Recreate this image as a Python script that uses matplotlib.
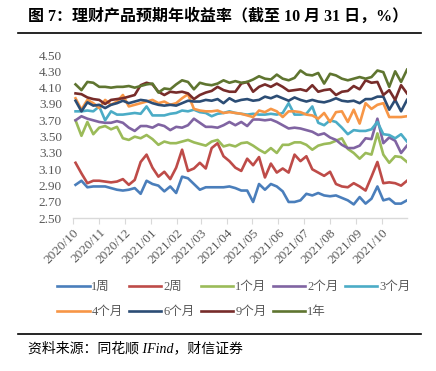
import pandas as pd
import matplotlib
matplotlib.use("Agg")
import matplotlib.pyplot as plt
import matplotlib.dates as mdates
from matplotlib.lines import Line2D

# Tygodniowe daty obserwacji (57 tygodni, do 31.10.2021)
dates = pd.date_range("2020-10-04", periods=57, freq="7D")

labels = ["1周", "2周", "1个月", "2个月", "3个月", "4个月", "6个月", "9个月", "1年"]
colors = ["#4a7ebb", "#be4b48", "#9bbb59", "#8064a2", "#4bacc6",
          "#f79646", "#2c4d75", "#772c2a", "#5f7530"]

w1 = [2.91, 2.96, 2.88, 2.89, 2.89, 2.89, 2.87, 2.85, 2.84, 2.85,
      2.87, 2.80, 2.96, 2.92, 2.90, 2.83, 2.89, 2.81, 3.01, 2.99,
      2.92, 2.85, 2.88, 2.88, 2.88, 2.88, 2.89, 2.87, 2.84, 2.84,
      2.70, 2.92, 2.85, 2.92, 2.89, 2.83, 2.70, 2.70, 2.72, 2.80,
      2.78, 2.81, 2.78, 2.77, 2.78, 2.75, 2.72, 2.67, 2.76, 2.68,
      2.74, 2.89, 2.72, 2.74, 2.68, 2.68, 2.72]
w2 = [3.18, 3.05, 2.93, 2.96, 2.96, 2.95, 2.94, 2.95, 2.98, 2.91,
      2.97, 3.19, 3.28, 3.12, 3.01, 3.07, 2.98, 3.12, 3.34, 3.08,
      3.11, 3.18, 3.11, 3.36, 3.42, 3.26, 3.20, 3.12, 3.08, 3.23,
      3.15, 3.25, 3.00, 3.17, 3.06, 3.11, 3.06, 3.28, 3.20, 3.26,
      3.10, 3.06, 3.02, 3.07, 2.92, 2.89, 2.88, 2.93, 2.89, 2.84,
      3.01, 3.19, 2.93, 2.94, 2.93, 2.90, 2.96]
m1 = [3.70, 3.51, 3.68, 3.53, 3.61, 3.63, 3.59, 3.62, 3.48, 3.46,
      3.50, 3.48, 3.52, 3.47, 3.40, 3.44, 3.42, 3.42, 3.44, 3.46,
      3.43, 3.41, 3.39, 3.44, 3.46, 3.38, 3.40, 3.38, 3.42, 3.43,
      3.39, 3.34, 3.30, 3.36, 3.30, 3.40, 3.40, 3.43, 3.43, 3.40,
      3.34, 3.39, 3.41, 3.42, 3.45, 3.48, 3.35, 3.30, 3.23, 3.30,
      3.28, 3.54, 3.28, 3.18, 3.26, 3.25, 3.19]
m2 = [3.70, 3.75, 3.72, 3.70, 3.68, 3.67, 3.67, 3.69, 3.67, 3.61,
      3.57, 3.63, 3.63, 3.61, 3.65, 3.63, 3.58, 3.62, 3.61, 3.64,
      3.72, 3.67, 3.62, 3.62, 3.61, 3.64, 3.68, 3.64, 3.68, 3.63,
      3.71, 3.71, 3.70, 3.71, 3.68, 3.64, 3.60, 3.61, 3.60, 3.58,
      3.56, 3.52, 3.54, 3.49, 3.46, 3.40, 3.36, 3.36, 3.39, 3.48,
      3.47, 3.72, 3.42, 3.49, 3.45, 3.30, 3.39]
m3 = [3.81, 3.81, 3.82, 3.81, 3.87, 3.70, 3.81, 3.77, 3.77, 3.78,
      3.79, 3.78, 3.87, 3.76, 3.76, 3.76, 3.78, 3.79, 3.82, 3.81,
      3.83, 3.80, 3.79, 3.75, 3.78, 3.79, 3.81, 3.79, 3.78, 3.77,
      3.78, 3.77, 3.77, 3.78, 3.77, 3.79, 3.91, 3.77, 3.77, 3.78,
      3.87, 3.67, 3.64, 3.70, 3.68, 3.61, 3.53, 3.58, 3.57, 3.57,
      3.59, 3.68, 3.53, 3.52, 3.48, 3.53, 3.44]
m4 = [3.97, 3.83, 3.95, 3.91, 3.85, 3.95, 3.89, 3.93, 4.01, 3.87,
      3.89, 3.91, 3.93, 3.95, 3.91, 3.93, 3.89, 3.91, 3.97, 4.02,
      3.84, 3.82, 3.81, 3.81, 3.82, 3.79, 3.80, 3.79, 3.78, 3.76,
      3.74, 3.82, 3.80, 3.84, 3.81, 3.74, 3.81, 3.81, 3.80, 3.77,
      3.76, 3.72, 3.79, 3.68, 3.80, 3.81, 3.68, 3.83, 3.66, 3.91,
      3.84, 3.89, 3.91, 3.74, 3.74, 3.74, 3.75]
m6 = [3.94, 3.81, 3.92, 3.88, 3.89, 3.85, 3.89, 3.91, 3.94, 3.91,
      3.93, 3.95, 3.94, 3.91, 3.89, 3.88, 3.89, 3.88, 3.91, 3.94,
      3.93, 3.93, 3.95, 3.94, 3.96, 3.91, 3.97, 3.93, 3.95, 3.96,
      3.94, 3.95, 3.99, 3.97, 4.00, 3.97, 3.94, 3.98, 3.95, 3.93,
      3.95, 3.93, 3.92, 3.94, 3.97, 3.94, 3.93, 3.94, 3.91, 3.96,
      3.96, 3.99, 3.99, 3.83, 3.95, 3.81, 3.95]
m9 = [4.03, 4.02, 3.98, 3.96, 3.95, 3.90, 3.95, 3.96, 3.97, 3.99,
      4.01, 4.13, 4.16, 4.14, 4.05, 4.01, 4.05, 4.04, 4.05, 4.03,
      3.96, 4.01, 4.04, 4.06, 4.11, 4.07, 4.05, 4.05, 4.15, 4.17,
      4.05, 4.11, 4.14, 4.11, 4.15, 4.11, 4.06, 4.07, 4.08, 4.06,
      4.13, 4.05, 4.07, 4.08, 4.01, 4.05, 4.06, 4.12, 4.08, 4.19,
      4.16, 4.17, 4.01, 4.07, 3.95, 4.13, 4.03]
y1 = [4.14, 4.07, 4.17, 4.16, 4.11, 4.11, 4.10, 4.11, 4.11, 4.12,
      4.10, 4.12, 4.14, 4.15, 4.04, 4.09, 4.08, 4.14, 4.19, 4.17,
      4.08, 4.16, 4.14, 4.13, 4.15, 4.19, 4.16, 4.18, 4.16, 4.17,
      4.20, 4.24, 4.21, 4.20, 4.26, 4.21, 4.19, 4.22, 4.31, 4.26,
      4.25, 4.28, 4.15, 4.27, 4.25, 4.21, 4.19, 4.21, 4.23, 4.21,
      4.23, 4.31, 4.29, 4.11, 4.30, 4.17, 4.32]

series = [w1, w2, m1, m2, m3, m4, m6, m9, y1]

serif_cjk = ["Liberation Serif", "Noto Sans CJK SC"]
tick_color = "#595959"

fig = plt.figure(figsize=(4.36, 3.71), dpi=100)
ax = fig.add_axes([73 / 436, 1 - 218.3 / 371, 334 / 436, 163.3 / 371])

lines = []
for values, label, color in zip(series, labels, colors):
    assert len(values) == len(dates)
    line, = ax.plot(dates, values, color=color, linewidth=1.9, label=label,
                    solid_joinstyle="round")
    lines.append(line)

# Osie i podpisy
ax.set_ylim(2.5, 4.5)
ax.set_yticks([2.5 + 0.2 * k for k in range(11)])
ax.yaxis.set_major_formatter(plt.FormatStrFormatter("%.2f"))
ax.set_xlim(pd.Timestamp("2020-10-01"), pd.Timestamp("2021-10-31"))
ax.xaxis.set_major_locator(mdates.MonthLocator())
ax.xaxis.set_major_formatter(mdates.DateFormatter("%Y/%m"))

for side in ["top", "right", "left"]:
    ax.spines[side].set_visible(False)
ax.spines["bottom"].set_color("#d9d9d9")
ax.spines["bottom"].set_linewidth(1.0)

ax.tick_params(axis="y", length=0, pad=8, labelcolor=tick_color)
ax.tick_params(axis="x", length=4, color="#d9d9d9", pad=2, labelcolor=tick_color)
for lab in ax.get_yticklabels():
    lab.set_fontfamily("Liberation Serif")
    lab.set_fontsize(9.5)
for lab in ax.get_xticklabels():
    lab.set_fontfamily("Liberation Serif")
    lab.set_fontsize(9.5)
    lab.set_rotation(45)
    lab.set_ha("right")
    lab.set_rotation_mode("anchor")

# Legenda: matplotlib wypełnia kolumnami, więc kolejność wierszowa wymaga przestawienia
order = [0, 5, 1, 6, 2, 7, 3, 8, 4]
fig.legend([lines[k] for k in order], [labels[k] for k in order],
           loc="upper left", bbox_to_anchor=(57 / 436, 1 - 281 / 371),
           ncol=5, frameon=False, handlelength=2.6, handletextpad=0.15,
           columnspacing=0.5, labelspacing=1.05, borderpad=0, borderaxespad=0,
           prop={"family": serif_cjk, "size": 9}, labelcolor=tick_color)

# Tytuł, linie i źródło
fig.text(28 / 436, 1 - 17 / 371, "图 7：理财产品预期年收益率（截至 10 月 31 日，%）",
         ha="left", va="center", fontsize=11.5, fontweight="bold",
         family=serif_cjk)
fig.add_artist(Line2D([18 / 436, 421 / 436], [1 - 33 / 371, 1 - 33 / 371],
                      color="black", linewidth=1.2))
fig.add_artist(Line2D([18 / 436, 421 / 436], [1 - 334 / 371, 1 - 334 / 371],
                      color="black", linewidth=1.2))
fig.text(28 / 436, 1 - 348 / 371, "资料来源：同花顺 IFind，财信证券",
         ha="left", va="center", fontsize=10, style="italic", family=serif_cjk)

fig.savefig("out.png", dpi=100)
